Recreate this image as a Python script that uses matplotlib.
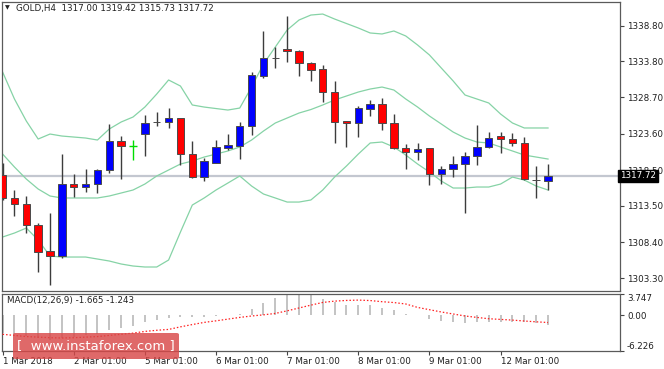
import matplotlib
matplotlib.use("Agg")
import matplotlib.pyplot as plt
from matplotlib.patches import FancyBboxPatch
import numpy as np

plt.rcParams['font.family'] = ['DejaVu Sans']

# ---------------- data ----------------
opens = [1317.81, 1314.62, 1313.69, 1310.78, 1307.13, 1306.43, 1316.54, 1316.12, 1316.54, 1318.51,
         1322.58, 1321.92, 1323.52, 1325.20, 1325.21, 1325.77, 1320.71, 1317.48, 1319.53, 1321.56,
         1321.88, 1324.65, 1331.75, 1334.17, 1335.46, 1335.22, 1333.58, 1332.65, 1329.42, 1325.39,
         1325.07, 1327.03, 1327.73, 1325.15, 1321.56, 1320.99, 1321.56, 1317.90, 1318.61, 1319.35,
         1320.52, 1321.70, 1323.28, 1322.86, 1322.26, 1317.12, 1317.00]
highs = [1319.49, 1315.70, 1314.86, 1311.00, 1312.47, 1320.75, 1317.95, 1318.65, 1318.60, 1324.97,
         1323.28, 1322.72, 1326.23, 1326.65, 1327.26, 1325.85, 1322.58, 1320.15, 1322.72, 1323.56,
         1325.21, 1332.31, 1338.07, 1335.82, 1340.13, 1335.30, 1333.65, 1333.25, 1331.05, 1325.45,
         1327.50, 1328.34, 1328.66, 1326.37, 1322.12, 1322.34, 1321.60, 1319.07, 1320.47, 1321.08,
         1324.83, 1323.89, 1323.80, 1323.74, 1323.10, 1319.07, 1319.42]
lows = [1314.30, 1312.05, 1309.70, 1304.23, 1302.36, 1306.15, 1314.76, 1315.46, 1315.32, 1318.13,
        1317.24, 1319.91, 1320.52, 1324.69, 1324.36, 1319.21, 1317.34, 1317.01, 1319.45, 1321.32,
        1320.05, 1323.42, 1331.39, 1332.79, 1333.72, 1331.71, 1331.05, 1328.10, 1322.34, 1321.78,
        1323.18, 1326.13, 1324.12, 1321.46, 1318.65, 1319.91, 1316.40, 1316.54, 1317.57, 1312.43,
        1319.21, 1321.56, 1320.85, 1321.92, 1317.10, 1314.62, 1315.73]
closes = [1314.58, 1313.69, 1310.78, 1307.03, 1306.43, 1316.50, 1316.16, 1316.54, 1318.51, 1322.58,
          1321.92, 1321.92, 1325.15, 1325.22, 1325.77, 1320.71, 1317.48, 1319.81, 1321.70, 1322.02,
          1324.69, 1331.85, 1334.19, 1334.19, 1335.22, 1333.58, 1332.55, 1329.42, 1325.29, 1325.15,
          1327.17, 1327.73, 1325.15, 1321.56, 1320.99, 1321.41, 1317.90, 1318.61, 1319.35, 1320.47,
          1321.70, 1322.96, 1322.86, 1322.26, 1317.20, 1317.10, 1317.72]

bb_upper = [1332.27, 1328.48, 1325.39, 1322.86, 1323.56, 1323.28, 1323.14, 1323.00, 1322.72, 1324.27,
            1325.25, 1325.95, 1327.35, 1329.18, 1331.15, 1330.30, 1327.64, 1327.35, 1327.14, 1326.93,
            1327.21, 1330.16, 1333.39, 1335.78, 1338.17, 1339.57, 1340.27, 1340.41, 1339.71, 1339.08,
            1338.45, 1337.75, 1337.61, 1338.03, 1337.33, 1336.06, 1334.66, 1332.83, 1331.01, 1329.04,
            1328.48, 1327.92, 1326.37, 1325.11, 1324.41, 1324.41, 1324.41]
bb_mid = [1320.75, 1318.93, 1317.24, 1315.84, 1314.86, 1314.58, 1314.58, 1314.58, 1314.58, 1314.86,
          1315.28, 1315.70, 1316.54, 1317.67, 1318.51, 1319.35, 1319.77, 1320.33, 1320.75, 1321.18,
          1321.74, 1322.72, 1323.98, 1325.11, 1325.81, 1326.51, 1327.00, 1327.64, 1328.34, 1328.90,
          1329.46, 1329.88, 1330.16, 1329.74, 1328.48, 1327.35, 1326.09, 1324.97, 1323.84, 1323.00,
          1322.44, 1322.30, 1321.74, 1321.18, 1320.61, 1320.33, 1320.05]
bb_lower = [1309.10, 1309.66, 1310.36, 1308.68, 1306.43, 1306.29, 1306.29, 1306.29, 1306.01, 1305.73,
            1305.31, 1305.03, 1304.89, 1304.89, 1305.87, 1309.80, 1313.59, 1314.58, 1315.70, 1316.68,
            1317.67, 1316.26, 1315.14, 1314.58, 1314.01, 1314.01, 1314.30, 1315.70, 1317.52, 1319.07,
            1320.75, 1322.30, 1322.44, 1321.74, 1320.61, 1319.35, 1318.23, 1316.96, 1315.98, 1315.98,
            1316.12, 1316.12, 1316.54, 1317.52, 1317.10, 1316.26, 1315.70]

macd_main = [-3.0, -3.3, -3.6, -4.0, -4.3, -3.9, -3.7, -3.5, -3.2, -2.6,
             -2.2, -1.8, -1.2, -0.8, -0.5, -0.3, -0.3, -0.2, -0.1, 0.1,
             0.3, 1.2, 2.2, 3.0, 3.6, 3.8, 3.7, 2.8, 2.3, 1.9,
             1.9, 1.9, 1.3, 0.9, 0.2, 0.05, -0.7, -0.9, -1.2, -1.3,
             -1.2, -1.2, -1.2, -1.2, -1.2, -1.4, -1.665]
macd_signal = [-3.3, -3.5, -3.7, -3.8, -3.9, -3.95, -3.9, -3.8, -3.7, -3.5,
               -3.3, -3.1, -2.8, -2.6, -2.45, -2.0, -1.6, -1.22, -0.95, -0.65,
               -0.35, -0.1, 0.1, 0.35, 0.8, 1.3, 1.8, 2.27, 2.5, 2.62,
               2.68, 2.6, 2.4, 2.25, 2.0, 1.4, 1.0, 0.6, 0.25, -0.1,
               -0.35, -0.58, -0.7, -0.82, -0.98, -1.12, -1.243]

price_ticks = [1338.80, 1333.80, 1328.70, 1323.60, 1318.50, 1313.50, 1308.40, 1303.30]
macd_ticks = [3.747, 0.00, -6.226]
date_labels = ['1 Mar 2018', '2 Mar 01:00', '5 Mar 01:00', '6 Mar 01:00',
               '7 Mar 01:00', '8 Mar 01:00', '9 Mar 01:00', '12 Mar 01:00']
date_idx = [0, 6, 12, 18, 24, 30, 36, 42]
last_price = 1317.72
header = "GOLD,H4  1317.00 1319.42 1315.73 1317.72"
macd_title = "MACD(12,26,9) -1.665 -1.243"

# ---------------- figure ----------------
W, H = 664, 369
fig = plt.figure(figsize=(W / 100, H / 100), dpi=100)
fig.patch.set_facecolor('white')

def fx(px):
    return px / W

def fy(py):
    return 1 - py / H

ax = fig.add_axes([fx(2), fy(291), fx(618), (291 - 2) / H])
ax2 = fig.add_axes([fx(2), fy(351), fx(618), (351 - 294) / H])

x = np.arange(len(opens))
xlim = (-0.05, 52.07)

# Bollinger bands
band_c = '#86d3a6'
for band in (bb_upper, bb_mid, bb_lower):
    ax.plot(x, band, color=band_c, lw=0.9, zorder=2)

# current price line
ax.axhline(last_price, color='#c3c7d0', lw=1.6, zorder=1)

# candles
o = np.array(opens); c = np.array(closes); h = np.array(highs); l = np.array(lows)
normal = o != c
ax.vlines(x[normal], l[normal], h[normal], color='#3c3c3c', lw=1.0, zorder=3)
cols = np.where(c >= o, '#0000ff', '#ff0000')
bw = 0.62
ax.bar(x[normal], (c - o)[normal], bottom=o[normal], width=bw, color=cols[normal],
       edgecolor='#4a4a4a', linewidth=0.7, zorder=4)
# dojis (open == close) drawn as green crosses
dj = ~normal
ax.vlines(x[dj], l[dj], h[dj], color='#00dd00', lw=1.0, zorder=4)
ax.hlines(o[dj], x[dj] - bw / 2, x[dj] + bw / 2, color='#00dd00', lw=1.0, zorder=4)

ax.set_xlim(*xlim)
ax.set_ylim(1301.52, 1342.10)
ax.set_xticks([])
ax.yaxis.tick_right()
ax.set_yticks(price_ticks)
ax.set_yticklabels([f"{v:.2f}" for v in price_ticks])
ax.tick_params(axis='y', labelsize=6.3, length=3, width=0.8, color='#444444', pad=2,
               labelcolor='#202020')
for s in ax.spines.values():
    s.set_color('#5a5a5a'); s.set_linewidth(0.9)

# last price box
ax.text(1.0, last_price, f"{last_price:.2f}", transform=ax.get_yaxis_transform(),
        ha='left', va='center', fontsize=6.3, color='white', zorder=10,
        bbox=dict(boxstyle='square,pad=0.18', fc='black', ec='black'), clip_on=False)

# header
fig.text(fx(5), fy(8), "\u25bc", fontsize=4.5, color='#202020', va='center', ha='left')
fig.text(fx(16), fy(8), header, fontsize=6.3, color='#202020', va='center', ha='left')

# ---------------- MACD ----------------
ax2.bar(x, macd_main, width=0.17, color='#c4c4c4', zorder=2)
ax2.plot(x, macd_signal, color='#ff2020', lw=0.9, ls=(0, (1.2, 1.6)), zorder=3)
ax2.set_xlim(*xlim)
ax2.set_ylim(-6.226, 3.747)
ax2.yaxis.tick_right()
ax2.set_yticks(macd_ticks)
ax2.set_yticklabels(['3.747', '0.00', '-6.226'])
ytl = ax2.get_yticklabels()
ytl[0].set_va('top'); ytl[2].set_va('bottom')
ax2.tick_params(axis='y', labelsize=6.3, length=3, width=0.8, color='#444444', pad=2,
                labelcolor='#202020')
ax2.set_xticks(date_idx)
ax2.set_xticklabels(date_labels, ha='left')
ax2.tick_params(axis='x', labelsize=6.3, length=3, width=0.8, color='#444444', pad=1.5,
                labelcolor='#202020')
for s in ax2.spines.values():
    s.set_color('#5a5a5a'); s.set_linewidth(0.9)
ax2.text(fx(5) / fx(618), 0.88, macd_title, transform=ax2.transAxes, fontsize=6.3,
         color='#202020', va='center', ha='left')

# watermark
wm = FancyBboxPatch((fx(13), fy(359)), fx(166), (359 - 333) / H,
                    boxstyle='round,pad=0,rounding_size=0.004', transform=fig.transFigure,
                    fc='#d94848', ec='none', alpha=0.82, zorder=20)
fig.patches.append(wm)
fig.text(fx(96), fy(346), "[  www.instaforex.com ]", fontsize=9.5, color='white',
         ha='center', va='center', zorder=21)

fig.savefig('out.png', dpi=100)
